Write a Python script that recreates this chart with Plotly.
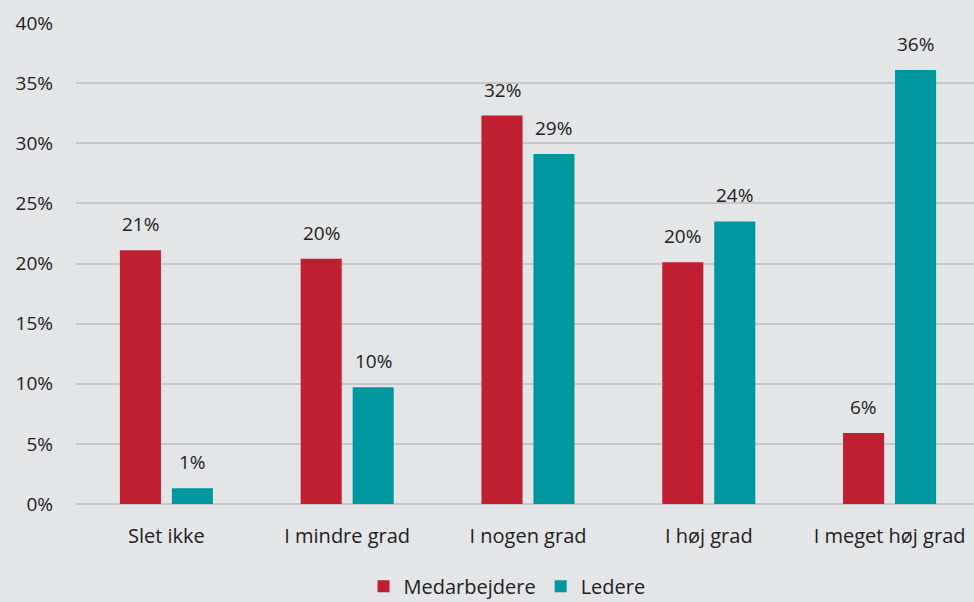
import plotly.graph_objects as go

categories = ["Slet ikke", "I mindre grad", "I nogen grad", "I høj grad", "I meget høj grad"]
medarbejdere = [21.1, 20.4, 32.3, 20.1, 5.9]
ledere = [1.3, 9.7, 29.1, 23.5, 36.1]
y_ticks = [0, 5, 10, 15, 20, 25, 30, 35, 40]
y_tick_labels = [f"{v}%" for v in y_ticks]

RED = "#c01f32"
TEAL = "#00979e"
BG = "#e4e5e7"
FONT = "Open Sans"
TXT = "#222222"
FS = 19
FS_CAT = 20

idx = list(range(len(categories)))

fig = go.Figure()
fig.add_trace(go.Bar(name="Medarbejdere", x=idx, y=medarbejdere, marker_color=RED,
                     marker_line_width=0))
fig.add_trace(go.Bar(name="Ledere", x=idx, y=ledere, marker_color=TEAL,
                     marker_line_width=0))

# value labels above each bar
half = 0.1437
for series, shift in ((medarbejdere, -half), (ledere, half)):
    for i, v in enumerate(series):
        fig.add_annotation(x=i + shift, y=v, text=f"{v:.0f}%", showarrow=False,
                           yanchor="bottom", yshift=11,
                           font=dict(family=FONT, size=FS, color=TXT))

fig.update_layout(
    width=974, height=602,
    margin=dict(l=76, r=0, t=23, b=98, autoexpand=False),
    paper_bgcolor=BG, plot_bgcolor=BG,
    barmode="group", bargap=0.425, bargroupgap=0.21,
    font=dict(family=FONT, size=FS, color=TXT),
    showlegend=True,
    legend=dict(orientation="h", x=0.48, xanchor="center",
                yref="container", y=0.026, yanchor="middle",
                font=dict(family=FONT, size=FS_CAT, color=TXT),
                itemwidth=30, traceorder="normal"),
    xaxis=dict(tickmode="array", tickvals=idx, ticktext=categories,
               range=[-0.5, 4.467], showgrid=False, zeroline=False,
               showline=False, ticks="", tickfont=dict(size=FS_CAT),
               ticklabelstandoff=18, automargin=False),
    yaxis=dict(range=[0, 40], tickmode="array", tickvals=y_ticks,
               ticktext=y_tick_labels, showgrid=True, gridcolor="#c6c7c9",
               gridwidth=1.5, zeroline=True, zerolinecolor="#c6c7c9",
               zerolinewidth=1.5, ticks="", ticklabelstandoff=22,
               tickfont=dict(size=FS), automargin=False),
)

fig.write_html("out.html")
